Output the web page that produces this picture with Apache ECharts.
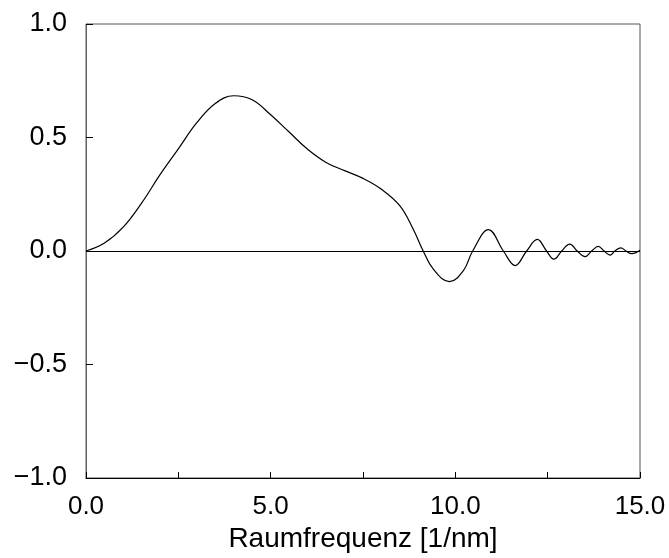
<!DOCTYPE html>
<html><head><meta charset="utf-8">
<script src="https://cdn.jsdelivr.net/npm/echarts@6/dist/echarts.min.js"></script>
<style>html,body{margin:0;padding:0;background:#fff}#c{width:669px;height:558px}</style>
</head><body><div id="c"></div>
<script>
var xValues = [0, 0.5, 1.0, 1.5, 2.0, 2.5, 3.0, 3.5, 4.0, 4.5, 5.0, 5.5, 6.0, 6.5, 7.0, 7.5, 8.0, 8.5, 8.86, 9.13, 9.4, 9.84, 10.22, 10.47, 10.9, 11.3, 11.62, 11.93, 12.22, 12.47, 12.67, 12.88, 13.1, 13.3, 13.51, 13.69, 13.87, 14.03, 14.19, 14.32, 14.48, 14.62, 14.78, 15.0];
var yValues = [0, 0.035, 0.104, 0.21, 0.335, 0.45, 0.565, 0.65, 0.684, 0.666, 0.60, 0.524, 0.448, 0.39, 0.354, 0.32, 0.272, 0.199, 0.096, 0, -0.079, -0.135, -0.086, 0, 0.094, 0, -0.064, 0, 0.051, 0, -0.036, 0, 0.03, 0, -0.025, 0, 0.02, 0, -0.018, 0, 0.014, 0, -0.012, 0.003];
var xTickLabels = [0, 5, 10, 15];
var yTickLabels = [-1, -0.5, 0, 0.5, 1];
var xTitle = 'Raumfrequenz [1/nm]';

var data = xValues.map(function (x, i) { return [x, yValues[i]]; });
var font = '"Liberation Sans", Arial, Helvetica, sans-serif';
var chart = echarts.init(document.getElementById('c'), null, {renderer: 'canvas'});
chart.setOption({
  animation: false,
  backgroundColor: '#fff',
  grid: {left: 86, right: 29, top: 24, bottom: 79, show: true, borderColor: '#555', borderWidth: 1, containLabel: false},
  xAxis: {
    type: 'value', min: 0, max: 15, interval: 2.5,
    name: xTitle, nameLocation: 'middle', nameGap: 47,
    nameTextStyle: {fontFamily: font, fontSize: 28, color: '#000'},
    axisLine: {show: true, onZero: false, lineStyle: {color: '#000', width: 1}},
    axisTick: {show: true, inside: true, length: 6, lineStyle: {color: '#000'}},
    splitLine: {show: false},
    axisLabel: {
      fontFamily: font, fontSize: 26, color: '#000', margin: 16,
      formatter: function (v) { return xTickLabels.indexOf(v) >= 0 ? v.toFixed(1) : ''; }
    }
  },
  yAxis: {
    type: 'value', min: -1, max: 1, interval: 0.5,
    axisLine: {show: true, onZero: false, lineStyle: {color: '#666', width: 1}},
    axisTick: {show: true, inside: true, length: 7, lineStyle: {color: '#000'}},
    splitLine: {show: false},
    axisLabel: {
      fontFamily: font, fontSize: 27, color: '#000', margin: 19,
      formatter: function (v) {
        var m = yTickLabels.filter(function (t) { return Math.abs(t - v) < 1e-9; });
        return m.length ? v.toFixed(1).replace('-', '\u2212') : '';
      }
    }
  },
  series: [{
    type: 'line', data: data, smooth: 0.4, showSymbol: false,
    lineStyle: {color: '#000', width: 1.2},
    markLine: {
      silent: true, symbol: 'none', label: {show: false},
      lineStyle: {color: '#000', width: 1, type: 'solid'},
      data: [{yAxis: 0}]
    }
  }]
});
</script></body></html>
